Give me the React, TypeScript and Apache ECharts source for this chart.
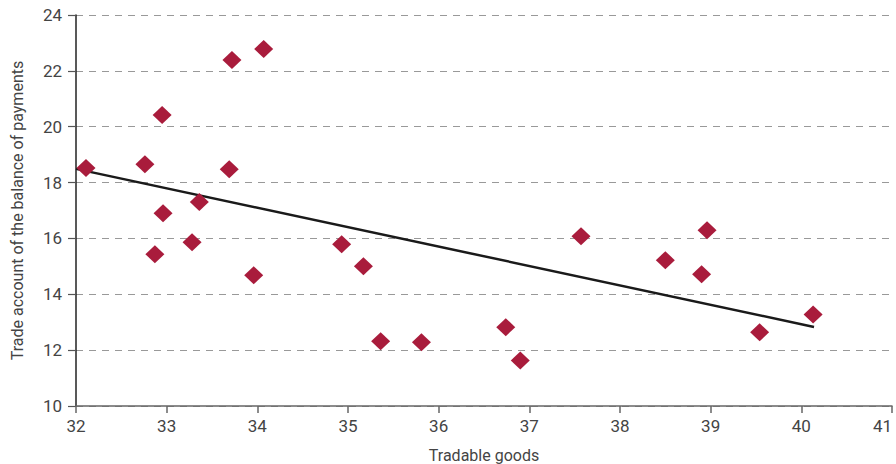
import React, { useEffect, useRef } from "react";
import * as echarts from "echarts";

const tradableGoods = [32.11, 32.76, 32.87, 32.95, 32.96, 33.28, 33.36, 33.69, 33.72, 33.96, 34.07, 34.93, 35.17, 35.36, 35.81, 36.74, 36.9, 37.57, 38.5, 38.9, 38.96, 39.54, 40.13];
const tradeAccount = [18.52, 18.66, 15.43, 20.42, 16.9, 15.86, 17.3, 18.48, 22.39, 14.68, 22.78, 15.79, 15.0, 12.32, 12.28, 12.82, 11.63, 16.08, 15.22, 14.72, 16.29, 12.64, 13.28];
const trendX = [32, 40.14];
const trendY = [18.49, 12.83];

const FONT = 'Roboto, "Liberation Sans", sans-serif';

export default function App() {
  const ref = useRef<HTMLDivElement>(null);
  useEffect(() => {
    document.body.style.margin = "0";
    document.documentElement.style.overflow = "hidden";
    document.body.style.overflow = "hidden";
    const chart = echarts.init(ref.current!, null, { renderer: "svg", width: 896, height: 464 });
    const points = tradableGoods.map((x, i) => [x, tradeAccount[i]]);
    const trend = trendX.map((x, i) => [x, trendY[i]]);
    chart.setOption({
      animation: false,
      backgroundColor: "#ffffff",
      textStyle: { fontFamily: FONT },
      grid: { left: 76, right: 4, top: 15, bottom: 58, containLabel: false, outerBoundsMode: "none" },
      xAxis: {
        type: "value",
        min: 32,
        max: 41,
        interval: 1,
        name: "Tradable goods",
        nameLocation: "middle",
        nameGap: 41,
        nameTextStyle: { fontFamily: FONT, fontSize: 16, color: "#444" },
        axisLine: { show: true, onZero: false, lineStyle: { color: "#666", width: 1.5 } },
        axisTick: { show: true, length: 7, lineStyle: { color: "#666", width: 1.5 } },
        axisLabel: { fontFamily: FONT, fontSize: 17, color: "#444", margin: 11, alignMaxLabel: "right" },
        splitLine: { show: false },
      },
      yAxis: {
        type: "value",
        min: 10,
        max: 24,
        interval: 2,
        name: "Trade account of the balance of payments",
        nameLocation: "middle",
        nameGap: 51,
        nameTextStyle: { fontFamily: FONT, fontSize: 16, color: "#444" },
        axisLine: { show: true, onZero: false, lineStyle: { color: "#222", width: 1.5 } },
        axisTick: { show: true, length: 8, lineStyle: { color: "#555", width: 1.2 } },
        axisLabel: { fontFamily: FONT, fontSize: 17, color: "#444", margin: 14 },
        splitLine: { show: true, lineStyle: { color: "#999", type: [7, 6], width: 1 } },
      },
      series: [
        {
          type: "scatter",
          data: points,
          symbol: "diamond",
          symbolSize: [19, 18],
          itemStyle: { color: "#a91c3c", opacity: 1 },
          z: 3,
        },
        {
          type: "line",
          data: trend,
          showSymbol: false,
          symbol: "none",
          lineStyle: { color: "#1a1a1a", width: 2.5 },
          z: 2,
        },
      ],
    });
    return () => chart.dispose();
  }, []);
  return <div ref={ref} style={{ width: 896, height: 464, overflow: "hidden" }} />;
}
